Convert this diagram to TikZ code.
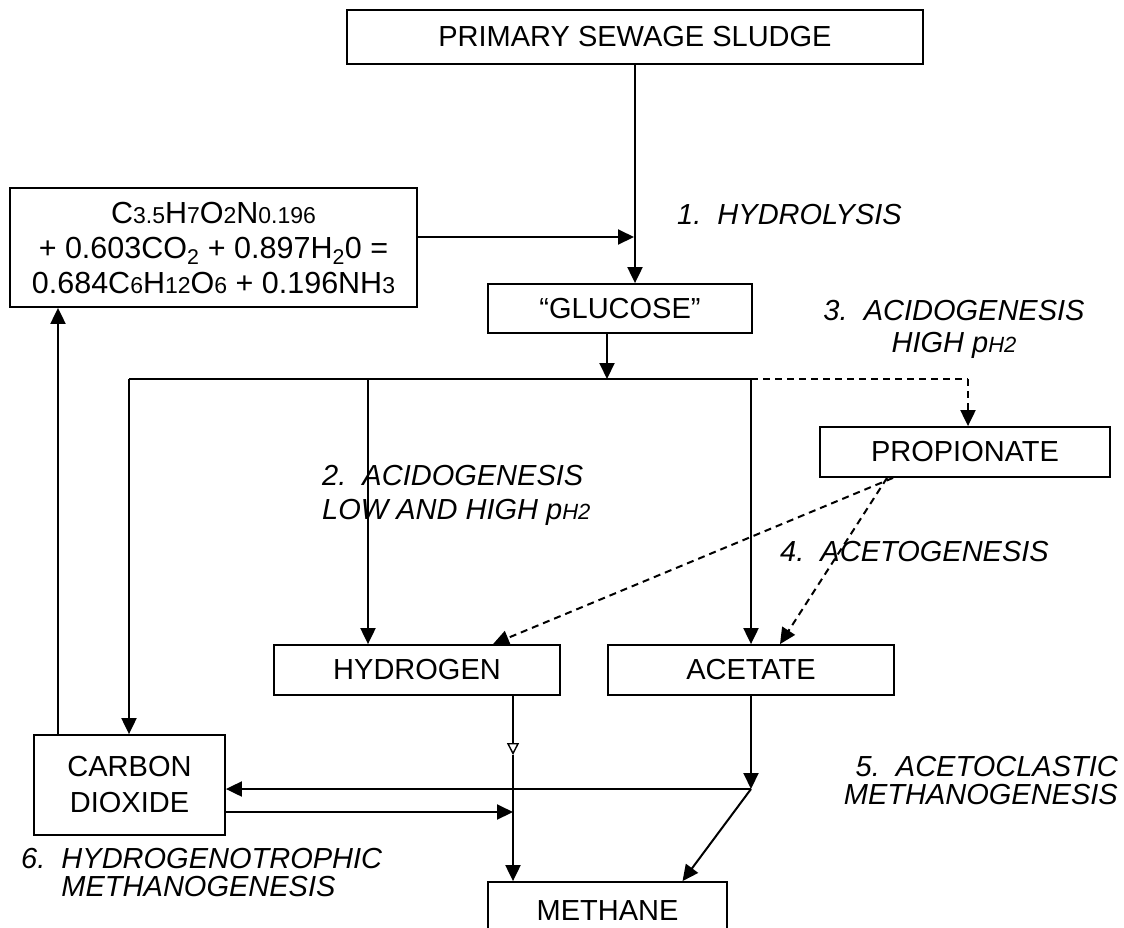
\documentclass[tikz,border=0pt]{standalone}
\usepackage{fontspec}
\setmainfont{Liberation Sans}
\usetikzlibrary{arrows.meta}
\newcommand\smd[1]{{\fontsize{22}{22}\selectfont #1}}
\newcommand\smq[1]{{\fontsize{23}{23}\selectfont #1}}
\tikzset{
  box/.style={draw, line width=1.8pt, inner sep=0pt, align=center, font=\fontsize{29}{36}\selectfont},
  lbl/.style={inner sep=0pt, font=\fontsize{29}{30}\selectfont\itshape},
  arr/.style={line width=2pt, -{Triangle[length=16pt,width=15pt]}},
  plain/.style={line width=2pt},
  dsh/.style={arr, dash pattern=on 7pt off 5pt},
  dshl/.style={plain, dash pattern=on 7pt off 5pt},
}
\begin{document}
\begin{tikzpicture}[x=1pt,y=-1pt]
\useasboundingbox (0,0) rectangle (1124,927);
\clip (0,0) rectangle (1124,927);
% boxes
\node[box, minimum width=576, minimum height=54] (sludge) at (635,37) {PRIMARY SEWAGE SLUDGE};
\node[box, minimum width=407, minimum height=119, font=\fontsize{30.5}{35}\selectfont] (eq) at (213.5,247.5)
  {C\smq{3.5}H\smq{7}O\smq{2}N\smq{0.196}\\
   + 0.603CO\textsubscript{2} + 0.897H\textsubscript{2}0 =\\
   0.684C\smq{6}H\smq{12}O\smq{6} + 0.196NH\smq{3}};
\node[box, minimum width=264, minimum height=49] (glucose) at (620,308.5) {“GLUCOSE”};
\node[box, minimum width=290, minimum height=50] (prop) at (965,452) {PROPIONATE};
\node[box, minimum width=286, minimum height=50] (hyd) at (417,670) {HYDROGEN};
\node[box, minimum width=286, minimum height=50] (acet) at (751,670) {ACETATE};
\node[box, minimum width=191, minimum height=100] (co2) at (129.5,785) {CARBON\\DIOXIDE};
\node[box, minimum width=239, minimum height=58] (meth) at (607.5,911) {METHANE};
% junction coordinates
\coordinate (jl) at (129,379);
\coordinate (jh) at (368,379);
\coordinate (jg) at (607,379);
\coordinate (ja) at (751,379);
\coordinate (jp) at (968,379);
\coordinate (jq) at (634,237);
\coordinate (vs) at (635,0);
\coordinate (cu) at (58,0);
\coordinate (m1) at (751,789);
\coordinate (m2) at (513,812);
\coordinate (h1) at (513,755);
% connectors
\draw[arr] (sludge.south -| vs) -- (glucose.north -| vs);
\draw[arr] (eq.east |- jq) -- (jq);
\draw[arr] (glucose.south -| jg) -- (jg);
\draw[plain] (jl) -- (ja);
\draw[arr] (jl) -- (jl |- co2.north);
\draw[arr] (jh) -- (jh |- hyd.north);
\draw[arr] (ja) -- (ja |- acet.north);
\draw[dshl] (ja) -- (jp);
\draw[dsh] (jp) -- (jp |- prop.north);
\draw[dsh] ([xshift=-72pt]prop.south) -- ([xshift=76pt]hyd.north);
\draw[dsh] ([xshift=-78pt]prop.south) -- ([xshift=29pt]acet.north);
\draw[arr] (cu |- co2.north) -- (cu |- eq.south);
\draw[arr] (acet.south) -- (m1);
\draw[arr] (m1) -- (co2.east |- m1);
\draw[arr] (m1) -- ([xshift=75pt]meth.north);
\draw[arr] (co2.east |- m2) -- (m2);
\draw[line width=1.4pt, -{Triangle[open,length=12pt,width=12pt]}] (hyd.south -| h1) -- (h1);
\draw[arr] (h1) -- (h1 |- meth.north);
% labels
\node[lbl, anchor=west] (l1) at (677,215) {1.\ \ HYDROLYSIS};
\node[lbl, align=center, font=\fontsize{29}{32}\selectfont\itshape] (l3) at (954,329) {3.\ \ ACIDOGENESIS\\HIGH p\smd{H2}};
\node[lbl, anchor=west, align=left, font=\fontsize{29}{34}\selectfont\itshape] (l2) at (322,495) {2.\ \ ACIDOGENESIS\\LOW AND HIGH p\smd{H2}};
\node[lbl, anchor=west] (l4) at (780,552) {4.\ \ ACETOGENESIS};
\node[lbl, anchor=east, align=right, font=\fontsize{29}{28}\selectfont\itshape] (l5) at (1118,781) {5.\ \ ACETOCLASTIC\\METHANOGENESIS};
\node[lbl, anchor=west, align=left, font=\fontsize{29}{28}\selectfont\itshape] (l6) at (21,873) {6.\ \ HYDROGENOTROPHIC\\\hphantom{6.\ \ }METHANOGENESIS};
\end{tikzpicture}
\end{document}
